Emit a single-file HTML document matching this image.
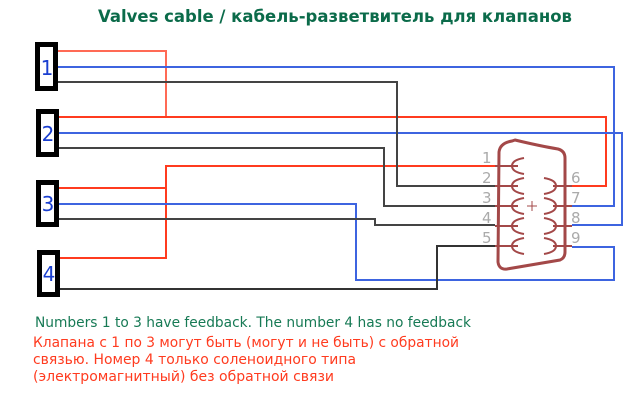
<!DOCTYPE html>
<html><head><meta charset="utf-8"><style>html,body{margin:0;padding:0;background:#fff}svg{display:block}</style></head>
<body>
<svg width="640" height="400" viewBox="0 0 640 400" xmlns="http://www.w3.org/2000/svg" font-family="DejaVu Sans, Liberation Sans, sans-serif">
<text x="335" y="22" text-anchor="middle" font-size="17" font-weight="bold" fill="#0b6b4a" textLength="474" lengthAdjust="spacingAndGlyphs">Valves cable / кабель-разветвитель для клапанов</text>
<g fill="none" stroke-width="2">
<polyline stroke="#ff6a55" points="58,51 166,51 166,117"/>
<polyline stroke="#ff3b1f" points="58,117 606,117 606,186 572,186"/>
<polyline stroke="#ff3b1f" points="58,188 166,188"/>
<polyline stroke="#ff3b1f" points="58,258 166,258 166,166 495,166"/>
<polyline stroke="#3d64e0" points="58,67 614,67 614,206 572,206"/>
<polyline stroke="#3d64e0" points="58,133 622,133 622,225 572,225"/>
<polyline stroke="#3d64e0" points="58,204 356,204 356,280 614,280 614,247 572,247"/>
<polyline stroke="#444" points="58,82 397,82 397,186 495,186"/>
<polyline stroke="#444" points="58,148 384,148 384,206 495,206"/>
<polyline stroke="#444" points="58,219 375,219 375,225 495,225"/>
<polyline stroke="#333" points="58,289 437,289 437,246 495,246"/>
</g>
<g fill="#fff" stroke="#000" stroke-width="5">
<rect x="37.5" y="44.5" width="18" height="44"/>
<rect x="38.5" y="111.5" width="18" height="43"/>
<rect x="38.5" y="182.5" width="18" height="42"/>
<rect x="39.5" y="252.5" width="18" height="42"/>
</g>
<g fill="#1a3fd0" font-size="20" text-anchor="middle">
<text x="47" y="75">1</text><text x="48" y="141">2</text><text x="48" y="211">3</text><text x="49" y="281">4</text>
</g>
<g stroke="#a34848" fill="none" stroke-width="3">
<path d="M512,141 Q500,143 499,152 L498,262 Q499,270 507,269 L560,260 Q565,258 565,252 L565,158 Q565,151 558,149 Q540,146 515,140 Z"/>
<g stroke-width="2">
<line x1="495" y1="166" x2="518" y2="166"/><line x1="495" y1="186" x2="518" y2="186"/><line x1="495" y1="206" x2="518" y2="206"/><line x1="495" y1="226" x2="518" y2="226"/><line x1="495" y1="246" x2="518" y2="246"/>
<line x1="553" y1="186" x2="572" y2="186"/><line x1="553" y1="206" x2="572" y2="206"/><line x1="553" y1="226" x2="572" y2="226"/><line x1="553" y1="246" x2="572" y2="246"/>
<path d="M524,158 Q512,160 512,166 Q512,172 524,174"/>
<path d="M524,178 Q512,180 512,186 Q512,192 524,194"/>
<path d="M524,198 Q512,200 512,206 Q512,212 524,214"/>
<path d="M524,218 Q512,220 512,226 Q512,232 524,234"/>
<path d="M524,238 Q512,240 512,246 Q512,252 524,254"/>
<path d="M544,178 Q556,180 556,186 Q556,192 544,194"/>
<path d="M544,198 Q556,200 556,206 Q556,212 544,214"/>
<path d="M544,218 Q556,220 556,226 Q556,232 544,234"/>
<path d="M544,238 Q556,240 556,246 Q556,252 544,254"/>
</g>
<g stroke-width="1"><line x1="527" y1="206" x2="537" y2="206"/><line x1="532" y1="201" x2="532" y2="211"/></g>
</g>
<g fill="#aaa" font-size="15">
<text x="482" y="163">1</text><text x="482" y="183">2</text><text x="482" y="203">3</text><text x="482" y="223">4</text><text x="482" y="243">5</text>
<text x="571" y="183">6</text><text x="571" y="203">7</text><text x="571" y="223">8</text><text x="571" y="243">9</text>
</g>
<text x="35" y="327" font-size="14" fill="#177a55" textLength="436" lengthAdjust="spacingAndGlyphs">Numbers 1 to 3 have feedback. The number 4 has no feedback</text>
<g font-size="14" fill="#ff3b1f">
<text x="33" y="347" textLength="426" lengthAdjust="spacingAndGlyphs">Клапана с 1 по 3 могут быть (могут и не быть) с обратной</text>
<text x="33" y="364" textLength="323" lengthAdjust="spacingAndGlyphs">связью. Номер 4 только соленоидного типа</text>
<text x="33" y="381" textLength="301" lengthAdjust="spacingAndGlyphs">(электромагнитный) без обратной связи</text>
</g>
</svg>
</body></html>
